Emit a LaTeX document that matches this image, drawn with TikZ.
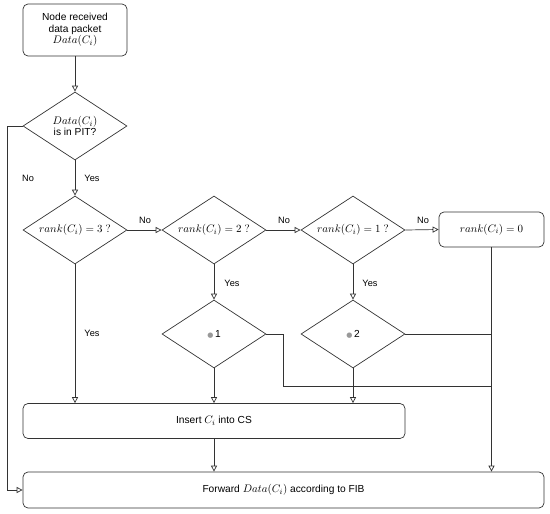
\documentclass[tikz,border=0pt]{standalone}
\usepackage{fontspec}
\setmainfont{Liberation Sans}
\newfontfamily\dejavu{DejaVu Sans}
\usetikzlibrary{shapes.geometric,arrows.meta}
\definecolor{ln}{HTML}{333333}
\newcommand\mth[1]{{\fontsize{10.8}{13}\selectfont$#1$}}
\newcommand\gdot{\textcolor{gray!80}{\dejavu\fontsize{7}{8}\selectfont ●}}
\tikzset{
  every node/.style={font=\fontsize{10.2}{12}\selectfont, text=black},
  box/.style={draw=ln, line width=0.7pt, rounded corners=5pt, inner sep=0pt},
  dia/.style={draw=ln, line width=0.7pt, diamond, minimum width=104pt, minimum height=68pt, inner sep=0pt, aspect=1.53},
  lnk/.style={draw=ln, line width=0.7pt},
  arr/.style={lnk, -{Triangle[open, length=6pt, width=6pt]}},
  lab/.style={inner sep=0pt, font=\fontsize{9.2}{10}\selectfont},
}
\begin{document}
\begin{tikzpicture}[x=1pt, y=-1pt]
\useasboundingbox (0,0) rectangle (550,514);
% nodes
\node[box, minimum width=104pt, minimum height=52pt, align=center] (start) at (75,30) {Node received\\data packet\\[-1pt]\mth{Data(C_i)}};
\node[dia, label={[align=center, inner sep=0pt]center:{\mth{Data(C_i)}\\[-1pt]is in PIT?}}] (d1) at (75,126) {};
\node[dia, label={[inner sep=0pt]center:{\mth{rank(C_i)=3\ \mathrm{?}}}}] (d3) at (75,230) {};
\node[dia, label={[inner sep=0pt]center:{\mth{rank(C_i)=2\ \mathrm{?}}}}] (d2) at (214,230) {};
\node[dia, label={[inner sep=0pt]center:{\mth{rank(C_i)=1\ \mathrm{?}}}}] (d1r) at (353,230) {};
\node[box, minimum width=105pt, minimum height=35pt] (r0) at (491.5,229.5) {\mth{rank(C_i)=0}};
\node[dia, label={[inner sep=0pt]center:{\gdot\,1}}] (s1) at (214,334) {};
\node[dia, label={[inner sep=0pt]center:{\gdot\,2}}] (s2) at (353,334) {};
\node[box, minimum width=382pt, minimum height=35pt] (ins) at (214,421) {Insert \mth{C_i} into CS};
\node[box, minimum width=521pt, minimum height=36pt] (fwd) at (283.5,490) {Forward \mth{Data(C_i)} according to FIB};
% coordinates
\coordinate (lft) at (7,126);
\coordinate (j1) at (283,334);
\coordinate (j2) at (283,386);
\coordinate (j3) at (491,386);
\coordinate (j4) at (491,334);
% connectors
\draw[arr] (start.south) -- (d1.north);
\draw[arr] (d1.west) -- (lft) |- (fwd.west);
\draw[arr] (d1.south) -- (d3.north);
\draw[arr] (d3.east) -- (d2.west);
\draw[arr] (d2.east) -- (d1r.west);
\draw[arr] (d1r.east) -- (r0.west);
\draw[arr] (d3.south) -- (d3.south |- ins.north);
\draw[arr] (d2.south) -- (s1.north);
\draw[arr] (d1r.south) -- (s2.north);
\draw[arr] (s1.south) -- (s1.south |- ins.north);
\draw[arr] (s2.south) -- (s2.south |- ins.north);
\draw[lnk] (s1.east) -- (j1) -- (j2) -- (j3);
\draw[lnk] (s2.east) -- (j4);
\draw[arr] (r0.south) -- (r0.south |- fwd.north);
\draw[arr] (ins.south) -- (ins.south |- fwd.north);
% labels
\node[lab] (n1) at (28,178) {No};
\node[lab] (y1) at (92,178) {Yes};
\node[lab] (n2) at (145,220) {No};
\node[lab] (n3) at (284,220) {No};
\node[lab] (n4) at (423,220) {No};
\node[lab] (y2) at (232,283) {Yes};
\node[lab] (y3) at (370,283) {Yes};
\node[lab] (y4) at (92,333) {Yes};
\end{tikzpicture}
\end{document}
